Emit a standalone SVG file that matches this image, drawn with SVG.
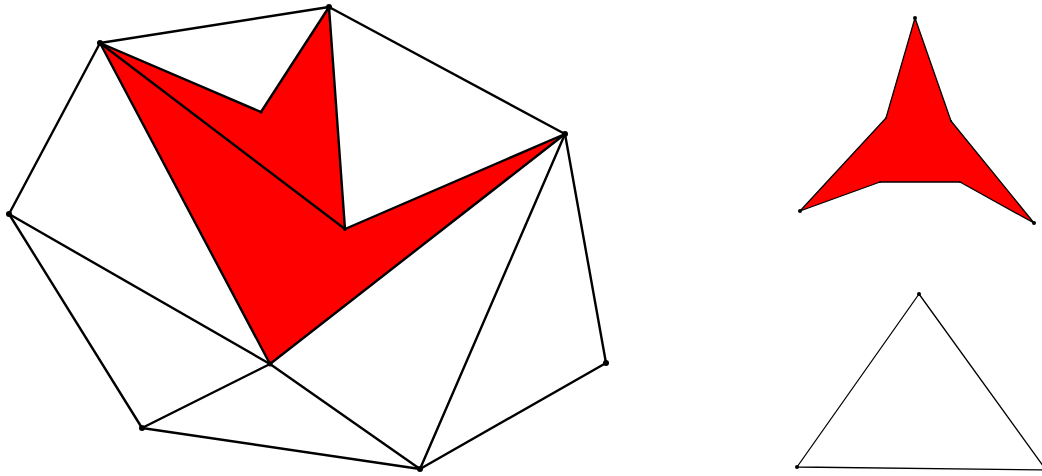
<svg xmlns="http://www.w3.org/2000/svg" width="1042" height="476" viewBox="0 0 1042 476">
<style>
.thick{stroke:#000;stroke-width:2.4;fill:none;stroke-linejoin:round;stroke-linecap:round}
.thin{stroke:#000;stroke-width:1.3;fill:none;stroke-linejoin:round;stroke-linecap:round}
.red{fill:#ff0000}
.dot{fill:#000}
</style>
<rect width="1042" height="476" fill="#fff"/>
<g id="left-figure">
  <polygon class="red" points="100,43 261,112 329,7 345,229 565,134 270,364"/>
  <g id="edges">
    <polygon class="thick" points="100,43 329,7 565,134 606,363 420,469 142,428 9,214"/>
    <polyline class="thick" points="100,43 261,112 329,7 345,229 565,134 270,364 100,43"/>
    <line class="thick" x1="100" y1="43" x2="345" y2="229"/>
    <line class="thick" x1="9" y1="214" x2="270" y2="364"/>
    <line class="thick" x1="142" y1="428" x2="270" y2="364"/>
    <line class="thick" x1="270" y1="364" x2="420" y2="469"/>
    <line class="thick" x1="420" y1="469" x2="565" y2="134"/>
  </g>
  <g id="vertices" class="dot">
    <circle cx="100" cy="43" r="3"/>
    <circle cx="329" cy="7" r="3"/>
    <circle cx="565" cy="134" r="3"/>
    <circle cx="606" cy="363" r="3"/>
    <circle cx="420" cy="469" r="3"/>
    <circle cx="142" cy="428" r="3"/>
    <circle cx="9" cy="214" r="3"/>
    <circle cx="270" cy="364" r="2.5"/>
    <circle cx="345" cy="229" r="2"/>
    <circle cx="261" cy="112" r="1.5"/>
  </g>
</g>
<g id="star">
  <polygon class="red thin" style="fill:#ff0000" points="915,18 951,121 1034,223 960,182 880,182 800,211 886,118"/>
  <g class="dot">
    <circle cx="915" cy="18" r="2"/>
    <circle cx="1034" cy="223" r="2"/>
    <circle cx="800" cy="211" r="2"/>
    <circle cx="951" cy="121" r="1"/>
    <circle cx="960" cy="182" r="1"/>
    <circle cx="880" cy="182" r="1"/>
    <circle cx="886" cy="118" r="1"/>
  </g>
</g>
<g id="triangle">
  <polygon class="thin" points="919,294 1046,470 797,467"/>
  <g class="dot">
    <circle cx="919" cy="294" r="2"/>
    <circle cx="797" cy="467" r="2"/>
  </g>
</g>
</svg>
